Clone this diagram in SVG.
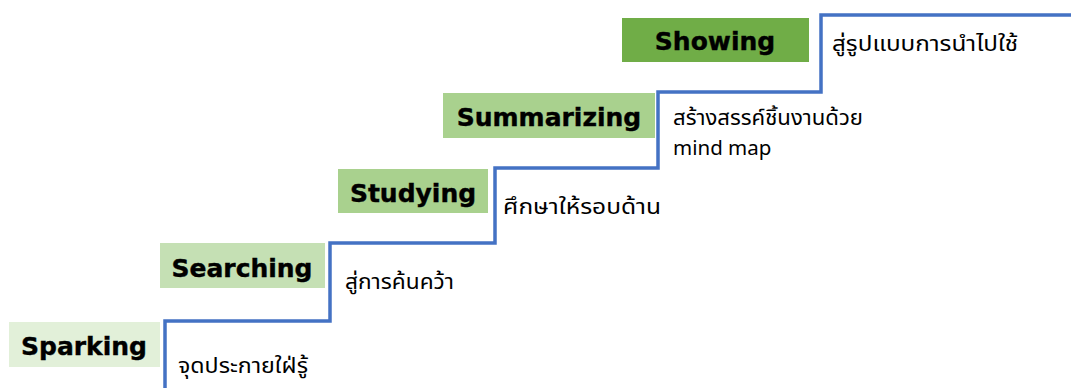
<svg xmlns="http://www.w3.org/2000/svg" width="1071" height="388" viewBox="0 0 1071 388">
<style>
.lbl{font-family:"DejaVu Sans","Liberation Sans",sans-serif;font-weight:bold;font-size:25px;fill:#000;stroke:#000;stroke-width:0.4}
.th{font-family:"Tahoma","Noto Sans Thai","DejaVu Sans","Noto Sans",sans-serif;font-size:20.5px;fill:#000}
.stair{fill:none;stroke:#4472C4;stroke-width:3.5;stroke-linejoin:miter}
</style>
<rect width="1071" height="388" fill="#fff"/>
<g id="connectors">
<path class="stair" d="M165 388 V321 H330 V243 H495 V168 H658 V92 H821 V15 H1071"/>
</g>
<g id="sparking">
<rect x="9" y="322" width="151" height="45" fill="#E2F0D9"/>
<text class="lbl" x="84" y="355" text-anchor="middle">Sparking</text>
<text class="th" x="178" y="373" textLength="130" lengthAdjust="spacingAndGlyphs">จุดประกายใฝ่รู้</text>
</g>
<g id="searching">
<rect x="160" y="243" width="165" height="45" fill="#C5E0B4"/>
<text class="lbl" x="242" y="277" text-anchor="middle">Searching</text>
<text class="th" x="345" y="289" textLength="109" lengthAdjust="spacingAndGlyphs">สู่การค้นคว้า</text>
</g>
<g id="studying">
<rect x="338" y="169" width="150" height="44" fill="#A9D18E"/>
<text class="lbl" x="413" y="202" text-anchor="middle">Studying</text>
<text class="th" x="503" y="214" textLength="158" lengthAdjust="spacingAndGlyphs">ศึกษาให้รอบด้าน</text>
</g>
<g id="summarizing">
<rect x="443" y="93" width="212" height="45" fill="#A9D18E"/>
<text class="lbl" x="549" y="126" text-anchor="middle">Summarizing</text>
<text class="th" x="673" y="125" textLength="190" lengthAdjust="spacingAndGlyphs">สร้างสรรค์ชิ้นงานด้วย</text>
<text class="th" x="673" y="155">mind map</text>
</g>
<g id="showing">
<rect x="622" y="18" width="187" height="44" fill="#70AD47"/>
<text class="lbl" x="715" y="50" text-anchor="middle">Showing</text>
<text class="th" x="832" y="51" textLength="186" lengthAdjust="spacingAndGlyphs">สู่รูปแบบการนำไปใช้</text>
</g>
</svg>
